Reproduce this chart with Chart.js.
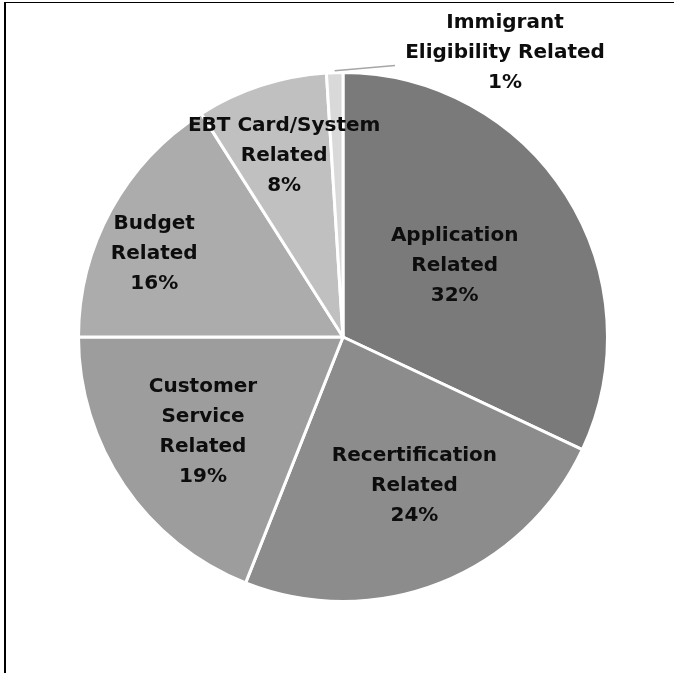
<!DOCTYPE html>
<html>
<head>
<meta charset="utf-8">
<script src="https://cdn.jsdelivr.net/npm/chart.js@4.4.0/dist/chart.umd.min.js"></script>
<style>
    html, body { margin: 0; padding: 0; background: #fff; }
    #wrap { position: relative; width: 674px; height: 673px; }
    #frame {
        position: absolute; left: 4px; top: 2px; right: -10px; bottom: -10px;
        border-left: 2px solid #000; border-top: 1px solid #000;
    }
    canvas { position: absolute; left: 0; top: 0; }
</style>
</head>
<body>
<div id="wrap">
    <div id="frame"></div>
    <canvas id="pieChart" width="674" height="673"></canvas>
</div>
<script>
// Categories (each one split into the lines shown on the chart)
const categories = [
    ['Application', 'Related'],
    ['Recertification', 'Related'],
    ['Customer', 'Service', 'Related'],
    ['Budget', 'Related'],
    ['EBT Card/System', 'Related'],
    ['Immigrant', 'Eligibility Related']
];
// Share of complaints, percent
const shares = [32, 24, 19, 16, 8, 1];
const sliceColors = ['#7a7a7a', '#8c8c8c', '#9d9d9d', '#acacac', '#c0c0c0', '#d9d9d9'];

// Where each label sits: fraction of the radius and a small turn (degrees) off the slice middle.
// null = placed outside with a leader line
const labelRadius = [0.5, 0.625, 0.64, 0.78, 0.72, null];
const labelTurn = [0, -4, 0, -5, 0, 0];

// Plugin that writes the category names and percentages on the slices
const sliceLabels = {
    id: 'sliceLabels',
    afterDatasetsDraw(chart) {
        const ctx = chart.ctx;
        const arcs = chart.getDatasetMeta(0).data;
        ctx.save();
        ctx.font = 'bold 20px "DejaVu Sans"';
        ctx.fillStyle = '#0d0d0d';
        ctx.textAlign = 'center';
        ctx.textBaseline = 'middle';
        const lineH = 30;

        arcs.forEach((arc, i) => {
            const p = arc.getProps(['x', 'y', 'startAngle', 'endAngle', 'outerRadius'], true);
            const mid = (p.startAngle + p.endAngle) / 2 + labelTurn[i] * Math.PI / 180;
            const lines = categories[i].concat([shares[i] + '%']);
            let cx, cy;

            if (labelRadius[i] !== null) {
                cx = p.x + Math.cos(mid) * p.outerRadius * labelRadius[i];
                cy = p.y + Math.sin(mid) * p.outerRadius * labelRadius[i];
            } else {
                // outside label with a leader line
                const sx = p.x + Math.cos(mid) * (p.outerRadius + 2);
                const sy = p.y + Math.sin(mid) * (p.outerRadius + 2);
                const ex = p.x + 52;
                const ey = p.y - p.outerRadius - 7;
                ctx.beginPath();
                ctx.moveTo(sx, sy);
                ctx.lineTo(ex, ey);
                ctx.strokeStyle = '#a6a6a6';
                ctx.lineWidth = 1.5;
                ctx.stroke();
                cx = p.x + 162;
                cy = p.y - 284;
            }

            const top = cy - (lines.length - 1) * lineH / 2;
            lines.forEach((t, k) => ctx.fillText(t, cx, top + k * lineH));
        });
        ctx.restore();
    }
};

const ctx = document.getElementById('pieChart').getContext('2d');
const myChart = new Chart(ctx, {
    type: 'pie',
    data: {
        labels: categories.map(c => c.join(' ')),
        datasets: [{
            data: shares,
            backgroundColor: sliceColors,
            borderColor: '#ffffff',
            borderWidth: 3
        }]
    },
    options: {
        responsive: false,
        animation: false,
        layout: {
            padding: { left: 77, right: 65, top: 71, bottom: 70 }
        },
        plugins: {
            legend: { display: false },
            tooltip: { enabled: false }
        }
    },
    plugins: [sliceLabels]
});
</script>
</body>
</html>
